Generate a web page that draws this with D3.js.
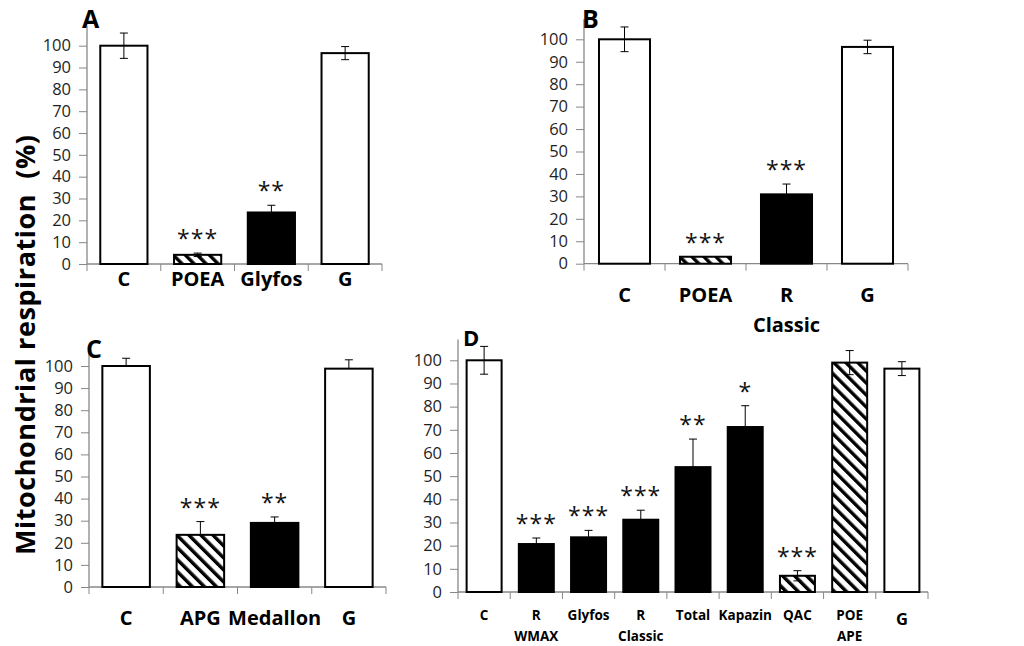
<!DOCTYPE html>
<html>
<head>
<meta charset="utf-8">
<script src="https://cdn.jsdelivr.net/npm/d3@7"></script>
<style>
  body { margin: 0; background: #fff; }
  svg { display: block; }
  text { font-family: "Open Sans", "DejaVu Sans", sans-serif; }
</style>
</head>
<body>
<svg id="chart" width="1024" height="646"></svg>
<script>
// ---- data ----
var catsA = ["C", "POEA", "Glyfos", "G"];
var valsA = [100, 4.2, 23.6, 96.6];
var errA  = [5.8, 0.8, 3.3, 3];
var fillA = ["white", "hatch", "black", "white"];
var starA = ["", "***", "**", ""];

var catsB = ["C", "POEA", "R|Classic", "G"];
var valsB = [100, 3.1, 30.9, 96.6];
var errB  = [5.5, 0, 4.6, 3];
var fillB = ["white", "hatch", "black", "white"];
var starB = ["", "***", "***", ""];

var catsC = ["C", "APG", "Medallon", "G"];
var valsC = [100, 23.6, 29, 98.8];
var errC  = [3.5, 6, 2.7, 4];
var fillC = ["white", "hatch", "black", "white"];
var starC = ["", "***", "**", ""];

var catsD = ["C", "R|WMAX", "Glyfos", "R|Classic", "Total", "Kapazin", "QAC", "POE|APE", "G"];
var valsD = [100, 20.7, 23.6, 31.2, 53.9, 71.2, 7, 99, 96.4];
var errD  = [6, 2.6, 3, 4.1, 12.1, 9.2, 2.2, 5.2, 3];
var fillD = ["white", "black", "black", "black", "black", "black", "hatch", "hatch", "white"];
var starD = ["", "***", "***", "***", "**", "*", "***", "", ""];

var yTicks = [0, 10, 20, 30, 40, 50, 60, 70, 80, 90, 100];

var svg = d3.select("#chart");

var defs = svg.append("defs");
var pat = defs.append("pattern")
    .attr("id", "hatch")
    .attr("patternUnits", "userSpaceOnUse")
    .attr("width", 8.5).attr("height", 8.5)
    .attr("patternTransform", "rotate(-45)");
pat.append("rect").attr("width", 8.5).attr("height", 8.5).attr("fill", "#fff");
pat.append("rect").attr("x", 0).attr("width", 3.4).attr("height", 8.5).attr("fill", "#000");

// y title shared by all panels
svg.append("text")
    .attr("transform", "translate(35,345) rotate(-90)")
    .attr("text-anchor", "middle")
    .attr("font-size", 27)
    .attr("font-weight", "bold")
    .attr("fill", "#000")
    .attr("xml:space", "preserve")
    .attr("textLength", 420)
    .attr("lengthAdjust", "spacing")
    .text("Mitochondrial respiration  (%)");

function drawPanel(p){
  var g = svg.append("g");

  var y = d3.scaleLinear().domain([0, 100]).range([p.y0, p.y100]);
  var x = d3.scaleBand().domain(d3.range(p.cats.length))
      .range([p.x0, p.x1]).paddingInner(p.pad).paddingOuter(p.pad / 2);
  var step = x.step();

  var rows = p.vals.map(function(v, i){
    return { i: i, v: v, e: p.err[i], fill: p.fill[i], star: p.stars[i], cat: p.cats[i] };
  });
  var cx = function(d){ return x(d.i) + x.bandwidth() / 2; };

  // y axis
  var yAxis = g.append("g")
      .attr("transform", "translate(" + p.x0 + ",0)")
      .call(d3.axisLeft(y).tickValues(yTicks).tickSize(8).tickPadding(8));
  yAxis.select(".domain").remove();
  yAxis.selectAll(".tick line").attr("stroke", "#888");
  yAxis.selectAll(".tick text")
      .attr("font-size", 16.5).attr("fill", "#1f1f1f")
      .attr("font-family", "'Open Sans', sans-serif");
  g.append("line")
      .attr("x1", p.x0).attr("x2", p.x0)
      .attr("y1", y(109)).attr("y2", p.y0)
      .attr("stroke", "#888").attr("stroke-width", 1.3);

  // x axis with boundary ticks
  g.append("line")
      .attr("x1", p.x0).attr("x2", p.x1)
      .attr("y1", p.y0).attr("y2", p.y0)
      .attr("stroke", "#888").attr("stroke-width", 1.3);
  g.selectAll(".bound")
      .data(d3.range(p.cats.length + 1))
      .enter().append("line")
      .attr("x1", function(i){ return p.x0 + i * step; })
      .attr("x2", function(i){ return p.x0 + i * step; })
      .attr("y1", p.y0).attr("y2", p.y0 + 7)
      .attr("stroke", "#888");

  // bars
  g.selectAll(".bar")
      .data(rows)
      .enter().append("rect")
      .attr("x", function(d){ return x(d.i); })
      .attr("width", x.bandwidth())
      .attr("y", function(d){ return y(d.v); })
      .attr("height", function(d){ return p.y0 - y(d.v); })
      .attr("fill", function(d){ return d.fill == "hatch" ? "url(#hatch)" : d.fill; })
      .attr("stroke", "#000")
      .attr("stroke-width", 2);

  // error bars
  var eb = g.selectAll(".err")
      .data(rows.filter(function(d){ return d.e > 0; }))
      .enter().append("g");
  eb.append("line")
      .attr("x1", cx).attr("x2", cx)
      .attr("y1", function(d){ return y(d.v + d.e); })
      .attr("y2", function(d){ return p.oneSided ? y(d.v) : y(d.v - d.e); })
      .attr("stroke", "#000").attr("stroke-width", 1);
  eb.append("line")
      .attr("x1", function(d){ return cx(d) - 4; })
      .attr("x2", function(d){ return cx(d) + 4; })
      .attr("y1", function(d){ return y(d.v + d.e); })
      .attr("y2", function(d){ return y(d.v + d.e); })
      .attr("stroke", "#000").attr("stroke-width", 1);
  if (!p.oneSided) {
    eb.append("line")
        .attr("x1", function(d){ return cx(d) - 4; })
        .attr("x2", function(d){ return cx(d) + 4; })
        .attr("y1", function(d){ return y(d.v - d.e); })
        .attr("y2", function(d){ return y(d.v - d.e); })
        .attr("stroke", "#000").attr("stroke-width", 1);
  }

  // significance stars
  g.selectAll(".star")
      .data(rows.filter(function(d){ return d.star; }))
      .enter().append("text")
      .attr("x", cx)
      .attr("y", function(d){ return y(d.v + d.e) - 6; })
      .attr("text-anchor", "middle")
      .attr("font-size", 23)
      .attr("letter-spacing", 1)
      .attr("fill", "#111")
      .text(function(d){ return d.star; });

  // category labels (| splits lines)
  g.selectAll(".cat")
      .data(rows)
      .enter().append("text")
      .attr("text-anchor", "middle")
      .attr("font-weight", "bold")
      .attr("font-size", function(d){
        return (p.bigG && d.cat == "G") ? p.labSize + 3 : p.labSize;
      })
      .attr("fill", "#000")
      .each(function(d){
        var lines = d.cat.split("|");
        var t = d3.select(this);
        lines.forEach(function(s, k){
          t.append("tspan")
              .attr("x", cx(d))
              .attr("y", p.y0 + p.labDy + k * p.lineGap + ((p.bigG && d.cat == "G") ? 5 : 0))
              .text(s);
        });
      });

  // panel letter
  svg.append("text")
      .attr("x", p.lx).attr("y", p.ly)
      .attr("font-size", p.lsize)
      .attr("font-weight", "bold")
      .attr("fill", "#000")
      .text(p.letter);
}

drawPanel({ cats: catsA, vals: valsA, err: errA, fill: fillA, stars: starA,
  x0: 87, x1: 382, y0: 264, y100: 45.7, pad: 0.36,
  labSize: 20, labDy: 22, lineGap: 30,
  letter: "A", lx: 82, ly: 28, lsize: 25 });

drawPanel({ cats: catsB, vals: valsB, err: errB, fill: fillB, stars: starB,
  x0: 584, x1: 908, y0: 263.7, y100: 39.3, pad: 0.37,
  labSize: 20, labDy: 38, lineGap: 30,
  letter: "B", lx: 582, ly: 28, lsize: 25 });

drawPanel({ cats: catsC, vals: valsC, err: errC, fill: fillC, stars: starC,
  x0: 89, x1: 386, y0: 587, y100: 366, pad: 0.36, oneSided: true,
  labSize: 20, labDy: 38, lineGap: 30,
  letter: "C", lx: 86, ly: 358, lsize: 25 });

drawPanel({ cats: catsD, vals: valsD, err: errD, fill: fillD, stars: starD,
  x0: 458, x1: 928, y0: 592, y100: 360.3, pad: 0.33,
  labSize: 13.5, labDy: 28, lineGap: 21, bigG: true,
  letter: "D", lx: 463, ly: 346, lsize: 22 });
</script>
</body>
</html>
